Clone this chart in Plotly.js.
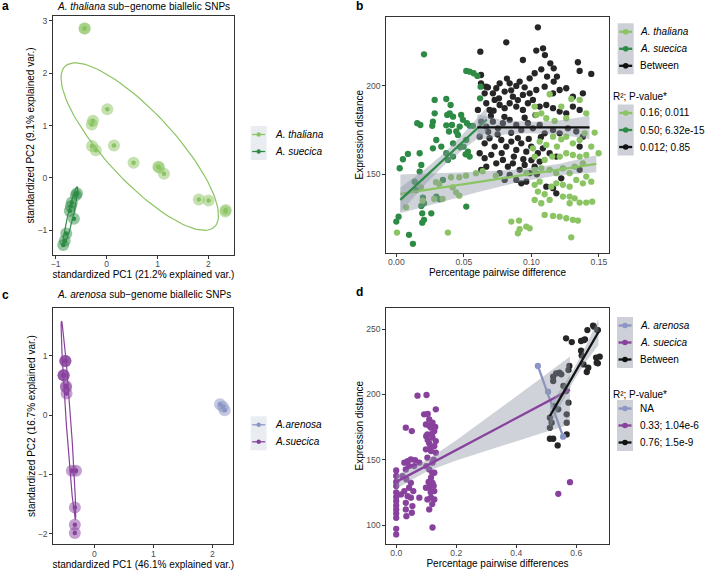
<!DOCTYPE html>
<html><head><meta charset="utf-8">
<script src="https://cdn.plot.ly/plotly-3.0.1.min.js"></script>
<style>html,body{margin:0;padding:0;background:#fff}#chart{width:706px;height:570px}</style>
</head><body><div id="chart"></div>
<script>
// ---------------- DATA ----------------
// Panel a: PCA, A. thaliana sub-genome (PC1, PC2)
const aThalianaPC1 = [-0.43, -0.43, 0.015, -0.266, -0.29, 0.146, -0.285, -0.21, 0.53, 1.015, 1.03, 1.126, 1.81, 2.00, 2.34, 2.33];
const aThalianaPC2 = [2.85, 2.85, 1.31, 1.09, 1.02, 0.62, 0.61, 0.53, 0.29, 0.215, 0.20, 0.08, -0.41, -0.43, -0.61, -0.64];
const aSuecicaPC1 = [-0.58, -0.60, -0.68, -0.70, -0.72, -0.64, -0.79, -0.82, -0.85];
const aSuecicaPC2 = [-0.29, -0.33, -0.47, -0.54, -0.63, -0.78, -1.06, -1.20, -1.28];
// Panel c: PCA, A. arenosa sub-genome
const cArenosaPC1 = [2.13, 2.18, 2.21];
const cArenosaPC2 = [0.18, 0.14, 0.08];
const cSuecicaPC1 = [-0.49, -0.49, -0.49, -0.52, -0.52, -0.52, -0.48, -0.48, -0.47, -0.38, -0.31, -0.33, -0.33, -0.33];
const cSuecicaPC2 = [0.91, 0.91, 0.91, 0.67, 0.67, 0.67, 0.49, 0.47, 0.365, -0.94, -0.94, -1.56, -1.85, -1.99];

// Panel b: [pairwise difference, expression distance]
const bThaliana = [[0.1135,195.3],[0.1221,188.3],[0.1295,192.6],[0.1357,192.1],[0.1024,188.3],[0.1073,184.5],[0.1036,183.6],[0.1110,181.7],[0.1172,180.2],[0.1258,181.7],[0.1406,184.5],[0.1394,173.2],[0.1468,173.6],[0.1497,161.9],[0.1443,165.7],[0.1357,169.4],[0.1307,167.5],[0.1258,171.3],[0.1221,169.8],[0.1189,165.7],[0.1160,171.3],[0.1110,166.6],[0.1061,168.5],[0.1011,164.7],[0.1024,160.0],[0.1098,158.1],[0.1154,160.0],[0.1210,160.0],[0.1258,161.9],[0.1307,160.9],[0.1357,160.0],[0.1406,160.9],[0.1381,156.2],[0.1320,154.3],[0.1283,150.6],[0.1233,153.4],[0.1184,150.6],[0.1135,152.5],[0.1073,153.4],[0.1024,152.5],[0.0962,150.6],[0.1406,148.7],[0.1443,145.8],[0.1381,144.9],[0.1332,146.8],[0.1283,143.0],[0.1233,144.0],[0.1184,144.9],[0.1147,143.0],[0.1061,145.8],[0.1024,144.0],[0.1048,140.2],[0.1098,138.7],[0.1024,135.5],[0.1073,133.6],[0.1135,135.5],[0.1233,137.4],[0.1283,137.4],[0.1320,136.4],[0.1283,133.6],[0.1357,134.0],[0.1406,134.0],[0.1450,134.5],[0.1098,127.0],[0.1160,126.4],[0.1209,126.0],[0.1258,125.1],[0.1307,124.2],[0.1344,123.8],[0.0908,123.8],[0.0851,123.2],[0.0962,120.4],[0.0913,118.9],[0.0987,119.4],[0.0900,116.6],[0.1295,114.3],[0.0005,117.0],[0.0382,117.0],[0.0072,131.3],[0.0183,142.6],[0.0195,135.1],[0.0281,136.0],[0.0294,145.5],[0.0318,144.5],[0.0343,136.0],[0.0417,142.6],[0.0442,139.8],[0.0466,137.9],[0.0466,148.3],[0.0516,149.2],[0.0590,150.6],[0.0639,151.7],[0.0737,149.2],[0.0405,148.3]];
const bSuecica = [[0.0205,217.9],[0.0518,208.5],[0.0543,208.1],[0.0572,207.2],[0.0600,205.7],[0.0624,199.6],[0.0620,193.0],[0.0284,192.1],[0.0370,192.6],[0.0402,189.2],[0.0395,184.5],[0.0377,183.6],[0.0420,182.6],[0.0480,183.6],[0.0155,178.9],[0.0178,177.9],[0.0266,177.4],[0.0271,179.8],[0.0284,184.5],[0.0370,177.7],[0.0412,177.9],[0.0390,174.2],[0.0493,180.8],[0.0523,178.9],[0.0543,177.4],[0.0567,177.4],[0.0469,177.0],[0.0444,174.2],[0.0456,172.3],[0.0518,169.4],[0.0498,165.7],[0.0513,161.3],[0.0543,160.0],[0.0530,162.8],[0.0420,167.5],[0.0473,165.3],[0.0420,160.0],[0.0296,169.4],[0.0333,165.7],[0.0271,164.7],[0.0370,161.9],[0.0382,158.1],[0.0086,161.5],[0.0173,161.9],[0.0185,155.3],[0.0049,158.5],[0.0025,153.4],[0.0173,151.5],[0.0136,145.8],[0.0148,141.1],[0.0197,136.8],[0.0205,133.6],[0.0185,132.1],[0.0192,127.9],[0.0205,124.2],[0.0192,122.6],[0.0259,127.9],[0.0000,123.2],[0.0017,126.0],[0.0094,115.7],[0.0123,110.6],[0.0518,131.7],[0.0345,146.8],[0.0321,135.8],[0.0296,137.4]];
const bBetween = [[0.1048,233.2],[0.0814,224.7],[0.0622,219.4],[0.0937,214.7],[0.1036,220.0],[0.1086,221.3],[0.1100,217.5],[0.1140,212.8],[0.1165,210.0],[0.1116,205.3],[0.1165,202.5],[0.1189,205.3],[0.1344,213.4],[0.1443,206.8],[0.1357,208.5],[0.1073,209.4],[0.1024,207.2],[0.0987,204.3],[0.0913,202.5],[0.0819,204.2],[0.0678,199.2],[0.0654,195.8],[0.0839,201.5],[0.0888,200.0],[0.0950,199.2],[0.0765,201.5],[0.0740,198.7],[0.0715,195.8],[0.0802,196.8],[0.0863,193.9],[0.0937,194.9],[0.0987,195.8],[0.1036,197.7],[0.1098,199.6],[0.1160,195.8],[0.1209,197.7],[0.1258,198.7],[0.1307,193.9],[0.1381,195.8],[0.0627,206.2],[0.0627,201.5],[0.0664,199.6],[0.0604,186.4],[0.0666,190.2],[0.0690,186.4],[0.0728,192.1],[0.0765,189.2],[0.0802,187.4],[0.0839,190.2],[0.0888,188.3],[0.0937,186.4],[0.0974,190.2],[0.1011,192.1],[0.1061,188.3],[0.1110,189.2],[0.1160,187.4],[0.1209,185.5],[0.1258,184.5],[0.1307,188.3],[0.1357,186.4],[0.0629,179.8],[0.0666,177.0],[0.0715,179.8],[0.0752,176.0],[0.0789,178.9],[0.0839,180.8],[0.0888,177.9],[0.0925,175.1],[0.0974,178.9],[0.1011,176.0],[0.1061,177.9],[0.1098,173.2],[0.1160,175.1],[0.1209,173.2],[0.1270,176.0],[0.1332,174.2],[0.1381,171.3],[0.1357,165.7],[0.0617,171.3],[0.0654,167.5],[0.0690,170.4],[0.0728,165.7],[0.0777,169.4],[0.0814,165.7],[0.0851,168.5],[0.0888,163.8],[0.0925,167.5],[0.0962,162.8],[0.0999,165.7],[0.1048,161.9],[0.1085,164.7],[0.1135,161.9],[0.1184,160.0],[0.0617,161.9],[0.0654,159.1],[0.0703,161.0],[0.0740,156.2],[0.0789,158.1],[0.0826,154.3],[0.0863,156.2],[0.0913,152.5],[0.0950,155.3],[0.0987,150.6],[0.1024,154.3],[0.1061,157.2],[0.0629,152.5],[0.0666,154.3],[0.0839,149.6],[0.0888,146.8],[0.0925,144.9],[0.0962,145.8],[0.0765,150.6],[0.0802,146.8],[0.1221,147.7],[0.1357,152.5],[0.1110,143.0],[0.1160,142.1],[0.1184,139.2],[0.0700,183.0],[0.0750,172.5],[0.0800,182.5],[0.0850,173.5],[0.0900,170.5],[0.0950,182.0],[0.0980,170.0],[0.1030,183.5],[0.1070,171.0],[0.0720,186.0],[0.0780,162.0],[0.0870,160.0],[0.0940,158.5],[0.0900,192.0],[0.0850,197.5],[0.0680,174.0],[0.1000,158.0],[0.1040,150.0],[0.0760,193.0]];

// Panel b fitted lines: [xStart, xEnd], [yStart, yEnd]
const bFitThalianaX = [0.003, 0.148], bFitThalianaY = [138.9, 155.9];
const bFitSuecicaX = [0.003, 0.067], bFitSuecicaY = [135.5, 181.0];
const bFitBetweenX = [0.060, 0.143], bFitBetweenY = [176.5, 176.5];
// Panel b confidence bands
const bBandThalianaX = [0.003, 0.03, 0.06, 0.09, 0.12, 0.148];
const bBandThalianaHi = [149.9, 150.5, 151.4, 152.7, 155.8, 160.7];
const bBandThalianaLo = [127.9, 133.5, 139.8, 145.5, 149.4, 151.1];
const bBandSuecicaX = [0.003, 0.02, 0.035, 0.05, 0.067];
const bBandSuecicaHi = [142.5, 152.1, 161.8, 173.4, 188.0];
const bBandSuecicaLo = [128.5, 143.1, 154.8, 164.4, 174.0];
const bBandBetweenX = [0.060, 0.080, 0.100, 0.120, 0.143];
const bBandBetweenHi = [184.0, 180.5, 179.8, 180.5, 183.0];
const bBandBetweenLo = [169.0, 172.5, 173.2, 172.5, 170.0];

// Panel d: [pairwise differences, expression distance]
const dSuecica = [[0,141.8],[0,137.5],[0,132.9],[0,129.8],[0,125.0],[0,121.5],[0,118.3],[0,115.0],[0,111.9],[0,108.8],[0,105.5],[0,97.1],[0,92.8],[0.032,174.5],[0.052,171.9],[0.027,147.7],[0.038,148.9],[0.049,150.2],[0.063,149.7],[0.077,147.7],[0.032,142.5],[0.043,145.1],[0.060,145.1],[0.021,137.4],[0.034,134.9],[0.049,132.3],[0.043,128.5],[0.057,126.0],[0.038,122.1],[0.049,120.9],[0.077,120.9],[0.032,117.0],[0.054,114.5],[0.032,111.9],[0.034,106.8],[0.052,109.4],[0.016,123.4],[0.027,126.0],[0.071,199.0],[0.101,199.5],[0.132,188.5],[0.093,184.7],[0.110,180.8],[0.121,178.3],[0.099,177.0],[0.116,174.5],[0.127,171.9],[0.104,169.3],[0.121,166.8],[0.132,164.2],[0.110,162.5],[0.127,160.4],[0.099,157.9],[0.116,156.6],[0.132,155.3],[0.104,151.5],[0.121,147.7],[0.110,142.5],[0.127,140.0],[0.116,136.2],[0.121,132.3],[0.110,128.5],[0.127,126.0],[0.099,128.5],[0.116,120.9],[0.127,119.6],[0.104,119.6],[0.110,111.9],[0.121,98.1],[0.105,185.0],[0.110,176.0],[0.120,170.0],[0.100,168.0],[0.130,175.0],[0.105,165.0],[0.115,160.0],[0.125,150.0],[0.100,145.0],[0.120,140.0],[0.108,133.0],[0.125,130.0],[0.115,125.0],[0.120,116.0],[0.540,123.9],[0.579,132.8]];
const dArenosa = [[0.472,221.7],[0.506,202.0],[0.556,167.6]];
const dBetween = [[0.637,249.2],[0.659,251.8],[0.670,249.2],[0.566,242.9],[0.585,240.0],[0.616,240.8],[0.629,242.1],[0.618,229.8],[0.624,222.9],[0.640,220.4],[0.635,217.1],[0.666,228.1],[0.668,224.2],[0.577,221.7],[0.574,218.6],[0.544,216.6],[0.523,213.5],[0.550,215.3],[0.523,210.2],[0.557,206.4],[0.566,202.5],[0.574,193.6],[0.528,191.0],[0.540,188.5],[0.568,184.7],[0.512,182.1],[0.518,178.3],[0.568,178.3],[0.512,174.4],[0.568,169.3],[0.512,166.0],[0.523,166.0],[0.538,160.9],[0.656,252.6],[0.672,249.2],[0.678,228.8],[0.672,223.7],[0.533,216.0],[0.616,233.4],[0.626,241.6]];
// Panel d fitted lines and bands
const dFitArenosaX = [0.472, 0.556], dFitArenosaY = [221.7, 167.6];
const dFitSuecicaX = [0.0, 0.579], dFitSuecicaY = [133.0, 203.6];
const dFitBetweenX = [0.512, 0.674], dFitBetweenY = [183.4, 247.7];
const dBandSuecicaX = [0.0, 0.1, 0.2, 0.3, 0.4, 0.5, 0.579];
const dBandSuecicaHi = [138.3, 149.4, 164.8, 181.5, 198.4, 215.3, 229.0];
const dBandSuecicaLo = [127.7, 140.8, 149.4, 156.9, 164.2, 171.3, 177.0];
const dBandBetweenX = [0.512, 0.55, 0.59, 0.63, 0.674];
const dBandBetweenHi = [192.4, 204.5, 218.9, 236.3, 257.7];
const dBandBetweenLo = [174.4, 192.5, 209.9, 224.3, 237.7];

// Tick labels
const aXTicks = [-1, 0, 1, 2], aXTickText = ['\u22121', '0', '1', '2'];
const aYTicks = [-1, 0, 1, 2, 3], aYTickText = ['\u22121', '0', '1', '2', '3'];
const cXTicks = [0, 1, 2], cXTickText = ['0', '1', '2'];
const cYTicks = [-2, -1, 0, 1], cYTickText = ['\u22122', '\u22121', '0', '1'];
const bXTicks = [0, 0.05, 0.10, 0.15], bXTickText = ['0.00', '0.05', '0.10', '0.15'];
const bYTicks = [150, 200], bYTickText = ['150', '200'];
const dXTicks = [0, 0.2, 0.4, 0.6], dXTickText = ['0.0', '0.2', '0.4', '0.6'];
const dYTicks = [100, 150, 200, 250], dYTickText = ['100', '150', '200', '250'];

// Legend texts
const aLegend = ['<i>A. thaliana</i>', '<i>A. suecica</i>'];
const cLegend = ['<i>A.arenosa</i>', '<i>A.suecica</i>'];
const bLegend = ['<i>A. thaliana</i>', '<i>A. suecica</i>', 'Between'];
const bStats = ['0.16; 0.011', '0.50; 6.32e-15', '0.012; 0.85'];
const dLegend = ['<i>A. arenosa</i>', '<i>A. suecica</i>', 'Between'];
const dStats = ['NA', '0.33; 1.04e-6', '0.76; 1.5e-9'];
const statTitle = 'R\u00b2; P-value*';

// ---------------- STYLE ----------------
const F = '"Liberation Sans", Arial, Helvetica, sans-serif';
const W = 706, H = 570;
const C = {thal:'#8bc462', suecG:'#2e8b45', betw:'#262626', aren:'#8c96c6', suecP:'#88419d'};
const BAND = 'rgba(140,150,165,0.42)';
const px = p => p / W, py = p => 1 - p / H;

// ---------------- HELPERS ----------------
function col(arr, i){ return arr.map(d => d[i]); }
function mean(a){ return a.reduce((s,v)=>s+v,0)/a.length; }
// ggbiplot-style normal data ellipse (prob 0.68)
function ellipse(xs, ys, prob){
  const n = xs.length, mx = mean(xs), my = mean(ys);
  let sxx=0, syy=0, sxy=0;
  for(let i=0;i<n;i++){ const dx=xs[i]-mx, dy=ys[i]-my; sxx+=dx*dx; syy+=dy*dy; sxy+=dx*dy; }
  sxx/=(n-1); syy/=(n-1); sxy/=(n-1);
  const r11=Math.sqrt(sxx), r12=sxy/r11, r22=Math.sqrt(Math.max(syy-r12*r12,0));
  const ed=Math.sqrt(-2*Math.log(1-prob));
  const ex=[], ey=[];
  for(let k=0;k<=120;k++){ const t=-Math.PI+2*Math.PI*k/120, c=Math.cos(t), s=Math.sin(t);
    ex.push(mx+ed*c*r11); ey.push(my+ed*(c*r12+s*r22)); }
  return {x:ex, y:ey};
}
function pts(x, y, color, size, xa, ya, opacity){
  return {type:'scatter', mode:'markers', x, y, xaxis:xa, yaxis:ya, hoverinfo:'skip', showlegend:false,
    marker:{color, size, opacity: opacity===undefined?1:opacity, line:{width:0}}};
}
function lineTr(x, y, color, width, xa, ya){
  return {type:'scatter', mode:'lines', x, y, xaxis:xa, yaxis:ya, hoverinfo:'skip', showlegend:false,
    line:{color, width}};
}
function band(xs, hi, lo, xa, ya){
  return {type:'scatter', mode:'lines', x: xs.concat(xs.slice().reverse()), y: hi.concat(lo.slice().reverse()),
    fill:'toself', fillcolor:BAND, line:{width:0}, xaxis:xa, yaxis:ya, hoverinfo:'skip', showlegend:false};
}

// ---------------- TRACES ----------------
const traces = [];
// Panel a
traces.push(pts(aThalianaPC1, aThalianaPC2, C.thal, 12, 'x', 'y', 0.5));
traces.push(pts(aSuecicaPC1, aSuecicaPC2, C.suecG, 12, 'x', 'y', 0.5));
traces.push(pts(aThalianaPC1, aThalianaPC2, C.thal, 4.5, 'x', 'y'));
traces.push(pts(aSuecicaPC1, aSuecicaPC2, C.suecG, 4.5, 'x', 'y'));
let e = ellipse(aThalianaPC1, aThalianaPC2, 0.68); traces.push(lineTr(e.x, e.y, C.thal, 1.2, 'x', 'y'));
e = ellipse(aSuecicaPC1, aSuecicaPC2, 0.68); traces.push(lineTr(e.x, e.y, C.suecG, 1.2, 'x', 'y'));
// Panel c
traces.push(pts(cArenosaPC1, cArenosaPC2, C.aren, 12, 'x3', 'y3', 0.5));
traces.push(pts(cSuecicaPC1, cSuecicaPC2, C.suecP, 12, 'x3', 'y3', 0.5));
traces.push(pts(cArenosaPC1, cArenosaPC2, C.aren, 4.5, 'x3', 'y3'));
traces.push(pts(cSuecicaPC1, cSuecicaPC2, C.suecP, 4.5, 'x3', 'y3'));
e = ellipse(cArenosaPC1, cArenosaPC2, 0.68); traces.push(lineTr(e.x, e.y, C.aren, 1.2, 'x3', 'y3'));
e = ellipse(cSuecicaPC1, cSuecicaPC2, 0.68); traces.push(lineTr(e.x, e.y, C.suecP, 1.2, 'x3', 'y3'));
// Panel b
traces.push(pts(col(bBetween,0), col(bBetween,1), C.betw, 6.3, 'x2', 'y2'));
traces.push(pts(col(bSuecica,0), col(bSuecica,1), C.suecG, 6.3, 'x2', 'y2'));
traces.push(pts(col(bThaliana,0), col(bThaliana,1), C.thal, 6.3, 'x2', 'y2'));
traces.push(band(bBandThalianaX, bBandThalianaHi, bBandThalianaLo, 'x2', 'y2'));
traces.push(lineTr(bFitThalianaX, bFitThalianaY, C.thal, 2.3, 'x2', 'y2'));
traces.push(band(bBandSuecicaX, bBandSuecicaHi, bBandSuecicaLo, 'x2', 'y2'));
traces.push(lineTr(bFitSuecicaX, bFitSuecicaY, C.suecG, 2.3, 'x2', 'y2'));
traces.push(band(bBandBetweenX, bBandBetweenHi, bBandBetweenLo, 'x2', 'y2'));
traces.push(lineTr(bFitBetweenX, bFitBetweenY, '#111111', 2.3, 'x2', 'y2'));
// Panel d
traces.push(pts(col(dBetween,0), col(dBetween,1), C.betw, 6.3, 'x4', 'y4'));
traces.push(pts(col(dSuecica,0), col(dSuecica,1), C.suecP, 6.3, 'x4', 'y4'));
traces.push(pts(col(dArenosa,0), col(dArenosa,1), C.aren, 6.3, 'x4', 'y4'));
traces.push(lineTr(dFitArenosaX, dFitArenosaY, C.aren, 2.3, 'x4', 'y4'));
traces.push(band(dBandSuecicaX, dBandSuecicaHi, dBandSuecicaLo, 'x4', 'y4'));
traces.push(lineTr(dFitSuecicaX, dFitSuecicaY, C.suecP, 2.3, 'x4', 'y4'));
traces.push(band(dBandBetweenX, dBandBetweenHi, dBandBetweenLo, 'x4', 'y4'));
traces.push(lineTr(dFitBetweenX, dFitBetweenY, '#111111', 2.3, 'x4', 'y4'));

// ---------------- LAYOUT ----------------
function axis(dom, range, tv, tt, title, anchor, isX){
  return {domain:dom, range, tickmode:'array', tickvals:tv, ticktext:tt, showgrid:false, zeroline:false,
    showline:true, mirror:true, linecolor:'#333333', linewidth:1, ticks:'outside', ticklen:3, tickwidth:1,
    tickcolor:'#333333', tickfont:{family:F, size:8.6, color:'#4d4d4d'}, anchor, fixedrange:true,
    ticklabelstandoff: isX ? -2 : 0,
    title:{text:title, font:{family:F, size:10, color:'#000000'}, standoff: isX ? 1 : 0}};
}
const layout = {
  width:W, height:H, margin:{l:0,r:0,t:0,b:0}, paper_bgcolor:'#ffffff', plot_bgcolor:'#ffffff',
  showlegend:false, hovermode:false, font:{family:F},
  xaxis:  axis([px(53), px(234)], [-1.05, 2.50], aXTicks, aXTickText, 'standardized PC1 (21.2% explained var.)', 'y', true),
  yaxis:  axis([py(255), py(16)], [-1.47, 3.09], aYTicks, aYTickText, 'standardized PC2 (9.1% explained var.)', 'x', false),
  xaxis2: axis([px(386.3), px(608.7)], [-0.0074, 0.1572], bXTicks, bXTickText, 'Percentage pairwise difference', 'y2', true),
  yaxis2: axis([py(252.7), py(16.7)], [105.6, 239.2], bYTicks, bYTickText, 'Expression distance', 'x2', false),
  xaxis3: axis([px(53.3), px(233.3)], [-0.695, 2.356], cXTicks, cXTickText, 'standardized PC1 (46.1% explained var.)', 'y3', true),
  yaxis3: axis([py(544.3), py(307.7)], [-2.18, 1.81], cYTicks, cYTickText, 'standardized PC2 (16.7% explained var.)', 'x3', false),
  xaxis4: axis([px(386.3), px(608.7)], [-0.033, 0.708], dXTicks, dXTickText, 'Percentage pairwise differences', 'y4', true),
  yaxis4: axis([py(543.7), py(307.7)], [85.7, 266.3], dYTicks, dYTickText, 'Expression distance', 'x4', false),
  shapes:[], annotations:[]
};
function ann(x, y, text, size, opts){
  layout.annotations.push(Object.assign({xref:'paper', yref:'paper', x:px(x), y:py(y), text, showarrow:false,
    font:{family:F, size, color:'#000000'}, xanchor:'left', yanchor:'middle'}, opts||{}));
}
// Panel letters and titles
ann(0, 6, '<b>a</b>', 12); ann(354, 6, '<b>b</b>', 12); ann(0, 295, '<b>c</b>', 12); ann(354, 292, '<b>d</b>', 12);
ann(143.5, 6, '<i>A. thaliana</i> sub\u2212genome biallelic SNPs', 10, {xanchor:'center'});
ann(143.5, 294.5, '<i>A. arenosa</i> sub\u2212genome biallelic SNPs', 10, {xanchor:'center'});

// Legend blocks
function legend(x0, x1, yTop, rowH, labels, colors, bg, lw, r, textX){
  layout.shapes.push({type:'rect', xref:'paper', yref:'paper', x0:px(x0), x1:px(x1), y0:py(yTop+rowH*labels.length), y1:py(yTop), fillcolor:bg, line:{width:0}, layer:'below'});
  labels.forEach((lab, i) => {
    const yc = yTop + rowH*(i+0.5), xc = (x0+x1)/2;
    layout.shapes.push({type:'line', xref:'paper', yref:'paper', x0:px(x0+1.5), x1:px(x1-1.5), y0:py(yc), y1:py(yc), line:{color:colors[i], width:lw}});
    layout.shapes.push({type:'circle', xref:'paper', yref:'paper', x0:px(xc-r), x1:px(xc+r), y0:py(yc+r), y1:py(yc-r), fillcolor:colors[i], line:{width:0}});
    ann(textX, yc, lab, 10);
  });
}
legend(250.7, 266.7, 126, 17, aLegend, [C.thal, C.suecG], '#e9edf2', 1.3, 2.2, 272.5);
legend(250.7, 266.7, 416.3, 17, cLegend, [C.aren, C.suecP], '#e9edf2', 1.3, 2.2, 272.5);
legend(617.7, 633.7, 23.3, 17, bLegend, [C.thal, C.suecG, '#111111'], '#cdd0d6', 2.3, 2.8, 638.3);
ann(611, 96.7, statTitle, 10);
legend(617.7, 633.7, 104.5, 17, bStats, [C.thal, C.suecG, '#111111'], '#cdd0d6', 2.3, 2.8, 638.3);
legend(617.0, 633.0, 317, 17, dLegend, [C.aren, C.suecP, '#111111'], '#cdd0d6', 2.3, 2.8, 637.5);
ann(611, 394.3, statTitle, 10);
legend(617.0, 633.0, 400, 17, dStats, [C.aren, C.suecP, '#111111'], '#cdd0d6', 2.3, 2.8, 637.5);

Plotly.newPlot('chart', traces, layout, {staticPlot:true, displayModeBar:false});
</script></body></html>
